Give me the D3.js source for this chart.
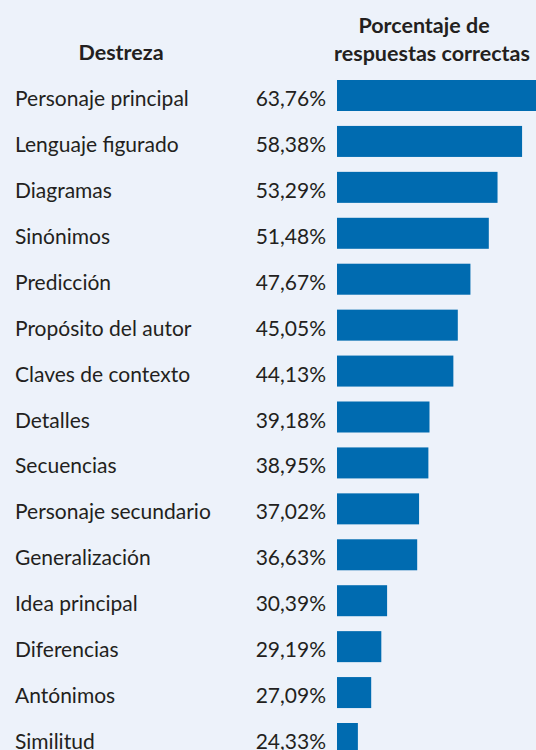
<!DOCTYPE html>
<html>
<head>
<meta charset="utf-8">
<script src="https://cdn.jsdelivr.net/npm/d3@7"></script>
<style>
  html, body { margin: 0; padding: 0; background: #edf2fa; }
  svg { display: block; }
  text { font-family: "Lato", "Open Sans", sans-serif; fill: #231f20; }
</style>
</head>
<body>
<svg id="chart" width="536" height="750"></svg>
<script>
// Destrezas evaluadas y porcentaje de respuestas correctas
const skills = [
  "Personaje principal", "Lenguaje figurado", "Diagramas", "Sinónimos",
  "Predicción", "Propósito del autor", "Claves de contexto", "Detalles",
  "Secuencias", "Personaje secundario", "Generalización", "Idea principal",
  "Diferencias", "Antónimos", "Similitud"
];
const percentCorrect = [
  63.76, 58.38, 53.29, 51.48, 47.67, 45.05, 44.13, 39.18,
  38.95, 37.02, 36.63, 30.39, 29.19, 27.09, 24.33
];
const headerSkill = "Destreza";
const headerValue = ["Porcentaje de", "respuestas correctas"];

const W = 536, H = 750;
const svg = d3.select("#chart");

svg.append("rect").attr("width", W).attr("height", H).attr("fill", "#edf2fa");

const rows = skills.map((s, i) => ({ skill: s, value: percentCorrect[i] }));

// Bars start at 20 % on the horizontal axis
const x = d3.scaleLinear().domain([20, 65]).range([337, 554]);
const y = d3.scaleBand().domain(skills).range([80, 754]).paddingInner(0.325).paddingOuter(0);

const fmt = v => d3.format(".2f")(v).replace(".", ",") + "%";
const fs = 21;
const hfs = 21.5;

const g = svg.append("g");

g.selectAll("rect.bar")
  .data(rows)
  .join("rect")
  .attr("class", "bar")
  .attr("x", x(20))
  .attr("y", d => y(d.skill))
  .attr("width", d => x(d.value) - x(20))
  .attr("height", y.bandwidth())
  .attr("fill", "#006bb0");

g.selectAll("text.skill")
  .data(rows)
  .join("text")
  .attr("class", "skill")
  .attr("x", 15)
  .attr("y", d => y(d.skill) + y.bandwidth() / 2 + 10.5)
  .attr("font-size", fs)
  .text(d => d.skill);

g.selectAll("text.val")
  .data(rows)
  .join("text")
  .attr("class", "val")
  .attr("x", 326)
  .attr("y", d => y(d.skill) + y.bandwidth() / 2 + 10.5)
  .attr("text-anchor", "end")
  .attr("font-size", fs)
  .text(d => fmt(d.value));

// Column headers
svg.append("text")
  .attr("x", 121).attr("y", 60)
  .attr("text-anchor", "middle")
  .attr("font-size", hfs).attr("font-weight", 700)
  .text(headerSkill);

svg.append("text")
  .attr("x", 424).attr("y", 33)
  .attr("text-anchor", "middle")
  .attr("font-size", hfs).attr("font-weight", 700)
  .text(headerValue[0]);

svg.append("text")
  .attr("x", 432).attr("y", 61)
  .attr("text-anchor", "middle")
  .attr("font-size", hfs).attr("font-weight", 700)
  .text(headerValue[1]);
</script>
</body>
</html>
